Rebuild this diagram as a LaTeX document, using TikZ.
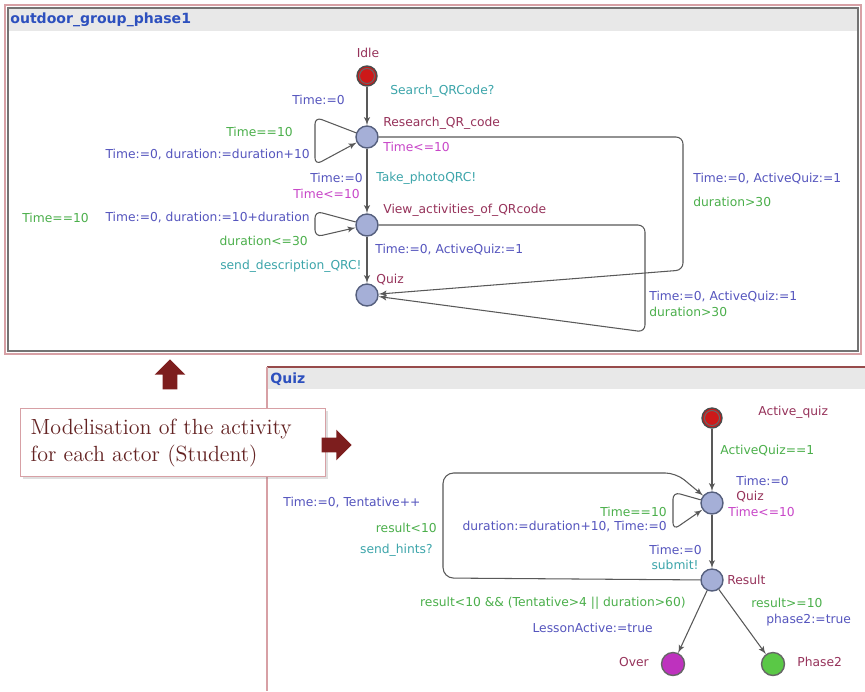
\documentclass[tikz,border=0pt]{standalone}
\usepackage{fontspec}
\usepackage{tikz}
\usetikzlibrary{shapes,arrows,shadows}
\newfontfamily\uppfont{DejaVu Sans}

\definecolor{cAssign}{RGB}{85,85,190}
\definecolor{cGuard}{RGB}{75,175,75}
\definecolor{cSync}{RGB}{60,165,170}
\definecolor{cLoc}{RGB}{150,50,90}
\definecolor{cInv}{RGB}{200,70,200}
\definecolor{cFill}{RGB}{165,175,215}
\definecolor{cRim}{RGB}{85,95,125}
\definecolor{cInit}{RGB}{205,25,25}
\definecolor{cTitle}{RGB}{45,80,190}
\definecolor{cBar}{RGB}{232,232,232}
\definecolor{cPanel}{RGB}{215,160,165}
\definecolor{cArrow}{RGB}{125,30,30}
\definecolor{cNote}{RGB}{100,35,35}
\definecolor{cOver}{RGB}{190,50,190}
\definecolor{cPhase}{RGB}{90,200,70}

\begin{document}
\begin{tikzpicture}[>=latex', x=0.02cm, y=-0.02cm]
    \tikzstyle{loc} = [draw=cRim, fill=cFill, shape=circle, minimum size=0.44cm, inner sep=0pt, line width=0.8pt];
    \tikzstyle{initloc} = [loc, fill=cInit, draw=black!70, minimum size=0.4cm, path picture={\draw[black!60, line width=0.6pt] (path picture bounding box.center) circle (0.15cm);}];
    \tikzstyle{lbl} = [font=\uppfont\fontsize{7}{8}\selectfont, inner sep=0pt];
    \tikzstyle{asg} = [lbl, text=cAssign];
    \tikzstyle{grd} = [lbl, text=cGuard];
    \tikzstyle{sync} = [lbl, text=cSync];
    \tikzstyle{lname} = [lbl, text=cLoc];
    \tikzstyle{inv} = [lbl, text=cInv];
    \tikzstyle{edge} = [->, draw=black!65, line width=0.6pt, rounded corners=4pt];
    \tikzstyle{paneltitle} = [font=\uppfont\bfseries\fontsize{8}{9}\selectfont, text=cTitle, anchor=west, inner sep=0pt];
    \tikzstyle{bigarrow} = [single arrow, fill=cArrow, draw=none, inner xsep=0pt, inner ysep=0.14cm, minimum height=0.6cm, single arrow head extend=0.16cm];
    \tikzstyle{callout} = [draw=cPanel, fill=white, line width=0.8pt, minimum height=1.34cm, text width=5.7cm, align=left, inner sep=0.2cm, font=\fontsize{12.5}{15.3}\selectfont, text=cNote, drop shadow={opacity=0.25, shadow xshift=1.2pt, shadow yshift=-1.2pt}];

    \path[use as bounding box, fill=white] (0,0) rectangle (865,691);

    % Panels
    \fill[cBar] (9,9) rectangle (857,31);
    \draw[cPanel, line width=1pt] (5,5) rectangle (861,354);
    \draw[black!55, line width=0.8pt] (8,8) rectangle (858,351);
    \node[paneltitle] (toptitle) at (10,20) {outdoor\_group\_phase1};

    \fill[cBar] (268,368) rectangle (865,389);
    \draw[cArrow!80, line width=0.8pt] (267,367) -- (865,367);
    \draw[cPanel, line width=1pt] (267,367) -- (267,691);
    \node[paneltitle] (quiztitle) at (270,379) {Quiz};

    % Nodes (outdoor_group_phase1)
    \node [initloc] (idle) at (367,76) {};
    \node [loc] (research) at (367,137) {};
    \node [loc] (view) at (367,225) {};
    \node [loc] (quizA) at (367,295) {};

    \node [lname] (idleN) at (368,53) {Idle};
    \node [lname, anchor=west] (researchN) at (383,123) {Research\_QR\_code};
    \node [inv, anchor=west] (researchI) at (383,147) {Time<=10};
    \node [lname, anchor=west] (viewN) at (383,210) {View\_activities\_of\_QRcode};
    \node [inv, anchor=east] (viewI) at (360,194) {Time<=10};
    \node [lname, anchor=west] (quizAN) at (376,280) {Quiz};

    % Paths (outdoor_group_phase1)
    \draw [edge] (idle) -- (research);
    \node [asg, anchor=east] (e1a) at (345,100) {Time:=0};
    \node [sync, anchor=west] (e1s) at (390,91) {Search\_QRCode?};

    \draw [edge] (research) -- (315,117) -- (315,165) -- (research);
    \node [grd, anchor=east] (e2g) at (293,132) {Time==10};
    \node [asg, anchor=east] (e2a) at (310,155) {Time:=0, duration:=duration+10};

    \draw [edge] (research) -- (view);
    \node [asg, anchor=east] (e3a) at (363,178) {Time:=0};
    \node [sync, anchor=west] (e3s) at (376,178) {Take\_photoQRC!};

    \draw [edge] (view) -- (315,211) -- (315,237) -- (view);
    \node [grd, anchor=west] (e4g) at (22,218) {Time==10};
    \node [asg, anchor=east] (e4a) at (310,218) {Time:=0, duration:=10+duration};

    \draw [edge] (view) -- (quizA);
    \node [asg, anchor=west] (e5a) at (375,250) {Time:=0, ActiveQuiz:=1};
    \node [grd, anchor=east] (e5g) at (308,241) {duration<=30};
    \node [sync, anchor=east] (e5s) at (362,266) {send\_description\_QRC!};

    \draw [edge] (research) -- (683,137) -- (683,270) -- (quizA);
    \node [asg, anchor=west] (e6a) at (693,179) {Time:=0, ActiveQuiz:=1};
    \node [grd, anchor=west] (e6g) at (693,202) {duration>30};

    \draw [edge] (view) -- (645,225) -- (645,332) -- (quizA);
    \node [asg, anchor=west] (e7a) at (649,297) {Time:=0, ActiveQuiz:=1};
    \node [grd, anchor=west] (e7g) at (649,312) {duration>30};

    % Note and arrows
    \node [callout, anchor=north west] (note) at (20,408) {Modelisation of the activity\\for each actor (Student)};
    \node [bigarrow, rotate=90] (uparrow) at (170,378) {};
    \node [bigarrow] (rightarrow) at (333,445) {};

    % Nodes (Quiz)
    \node [initloc] (activequiz) at (712,418) {};
    \node [loc] (quizB) at (712,503) {};
    \node [loc] (result) at (712,580) {};
    \node [loc, fill=cOver, draw=black!60, minimum size=0.46cm] (over) at (673,664) {};
    \node [loc, fill=cPhase, draw=black!60, minimum size=0.46cm] (phasetwo) at (773,664) {};

    \node [lname, anchor=west] (activequizN) at (758,412) {Active\_quiz};
    \node [asg, anchor=west] (quizBA) at (736,481) {Time:=0};
    \node [lname, anchor=west] (quizBN) at (736,497) {Quiz};
    \node [inv, anchor=west] (quizBI) at (728,512) {Time<=10};
    \node [lname, anchor=west] (resultN) at (727,580) {Result};
    \node [lname, anchor=east] (overN) at (649,662) {Over};
    \node [lname, anchor=west] (phasetwoN) at (797,662) {Phase2};

    % Paths (Quiz)
    \draw [edge] (activequiz) -- (quizB);
    \node [grd, anchor=west] (f1g) at (720,451) {ActiveQuiz==1};

    \draw [edge] (quizB) -- (673,492) -- (673,530) -- (quizB);
    \node [grd, anchor=east] (f2g) at (667,512) {Time==10};
    \node [asg, anchor=east] (f2a) at (667,527) {duration:=duration+10, Time:=0};

    \draw [edge] (quizB) -- (result);
    \node [asg, anchor=east] (f3a) at (702,550) {Time:=0};
    \node [sync, anchor=east] (f3s) at (699,565) {submit!};

    \draw [edge, rounded corners=6pt] (result) -- (443,578) -- (443,473) -- (676,473) -- (quizB);
    \node [asg, anchor=west] (f4a) at (283,503) {Time:=0, Tentative++};
    \node [grd, anchor=east] (f4g) at (437,528) {result<10};
    \node [sync, anchor=east] (f4s) at (433,550) {send\_hints?};

    \draw [edge] (result) -- (over);
    \node [grd, anchor=east] (f5g) at (686,603) {result<10 \&\& (Tentative>4 || duration>60)};
    \node [asg, anchor=east] (f5a) at (653,628) {LessonActive:=true};

    \draw [edge] (result) -- (phasetwo);
    \node [grd, anchor=west] (f6g) at (751,603) {result>=10};
    \node [asg, anchor=west] (f6a) at (766,620) {phase2:=true};
\end{tikzpicture}
\end{document}
